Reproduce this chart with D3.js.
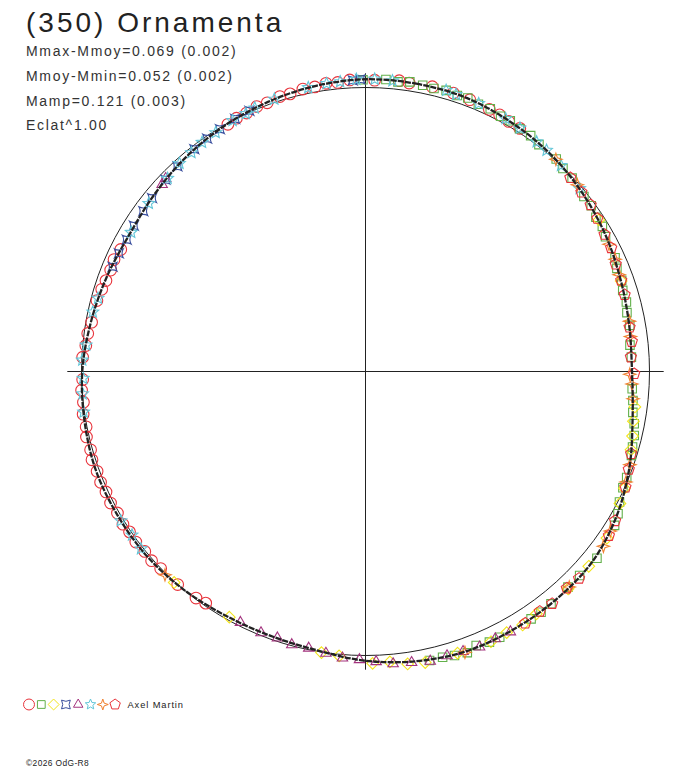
<!DOCTYPE html>
<html>
<head>
<meta charset="utf-8">
<script src="https://cdn.jsdelivr.net/npm/d3@7"></script>
<style>
  body { margin: 0; background: #fff; }
  svg { display: block; }
  text { font-family: "Liberation Sans", Arial, sans-serif; }
</style>
</head>
<body>
<div class="chart-container"></div>
<script>
// ---- data: phase angle (deg) and magnitude relative to the mean ----
const titleText = '(350) Ornamenta';
const statLines = ['Mmax-Mmoy=0.069 (0.002)', 'Mmoy-Mmin=0.052 (0.002)', 'Mamp=0.121 (0.003)', 'Eclat^1.00'];
const observer = 'Axel Martin';
const credit = '\u00a92026 OdG-R8';
const eclat = 1.00;

// fitted curve
const fitPhase = [0, 10, 20, 30, 40, 50, 60, 70, 80, 90, 100, 110, 120, 130, 140, 150, 160, 170,
    180, 190, 200, 210, 220, 230, 240, 250, 260, 270, 280, 290, 300, 310, 320, 330, 340, 350];
const fitMag = [-0.031, -0.031, -0.029, -0.018, -0.006, 0.011, 0.030, 0.050, 0.064, 0.069, 0.050, 0.012,
    -0.022, -0.045, -0.049, -0.050, -0.050, -0.038, -0.020, 0.004, 0.012, 0.010, 0.000, -0.008,
    -0.010, -0.012, -0.005, 0.003, 0.019, 0.033, 0.043, 0.033, 0.017, 0.003, -0.010, -0.022];

// session 1 (circles)
const s1Phase = [214.6, 216.8, 221.4, 226.1, 228.5, 230.8, 233.4, 235.8, 237.8, 240.3, 242.7, 245.1, 247.3, 249.6,
    252.1, 254.1, 256.8, 258.8, 261.4, 263.8, 266.2, 268.4, 272.9, 275.3, 277.8, 280.2, 284.8, 287.3, 289.3, 291.7,
    294.0, 296.5, 330.9, 333.0, 335.3, 337.7, 339.9, 342.7, 344.8, 347.5, 349.9, 352.2, 354.5, 356.9, 1.8, 6.6,
    8.6, 13.2, 17.5, 21.0, 25.3, 27.6, 29.8, 32.4];
const s1Mag = [0.010, 0.004, 0.000, -0.001, -0.006, -0.003, -0.008, -0.005, -0.010, -0.006, -0.011, -0.008, -0.012, -0.009,
    -0.013, -0.007, -0.010, -0.003, -0.006, 0.001, -0.002, 0.004, 0.003, 0.012, 0.014, 0.022, 0.024, 0.030, 0.035, 0.038,
    0.034, 0.041, 0.004, -0.001, -0.002, -0.009, -0.008, -0.015, -0.014, -0.020, -0.019, -0.026, -0.024, -0.030, -0.028, -0.033,
    -0.029, -0.032, -0.030, -0.027, -0.022, -0.021, -0.016, -0.015];

// session 2 (squares)
const s2Phase = [359.5, 4.0, 6.4, 8.7, 11.3, 13.6, 16.0, 18.4, 20.5, 22.9, 25.4, 27.9, 30.0, 32.4, 35.0, 37.4, 41.9, 44.2,
    46.9, 51.3, 53.7, 56.2, 58.5, 60.7, 65.5, 67.7, 70.4, 72.5, 75.1, 77.3, 80.1, 84.3, 86.9, 93.7, 96.2, 98.7, 101.0,
    103.4, 105.8, 107.5, 112.1, 114.3, 117.2, 119.4, 121.7, 128.9, 133.6, 136.8, 141.4, 143.9, 146.2, 153.2, 155.4,
    158.0, 160.1, 162.6, 164.9, 167.5];
const s2Mag = [-0.029, -0.033, -0.028, -0.034, -0.030, -0.027, -0.032, -0.026, -0.030, -0.023, -0.026, -0.018, -0.021, -0.013,
    -0.015, -0.006, -0.006, 0.003, 0.004, 0.016, 0.015, 0.026, 0.024, 0.034, 0.038, 0.048, 0.047, 0.056, 0.055, 0.063,
    0.062, 0.072, 0.070, 0.066, 0.059, 0.053, 0.040, 0.030, 0.025, 0.020, 0.008, 0.006, -0.006, -0.022, -0.033, -0.050,
    -0.044, -0.044, -0.050, -0.052, -0.051, -0.051, -0.051, -0.043, -0.056, -0.051, -0.045, -0.045];

// session 3 (diamonds)
const s3Phase = [57.0, 70.5, 97.5, 100.5, 103.6, 106.4, 114.3, 117.4, 124.6, 131.1, 137.0, 144.8, 148.2, 151.6, 155.1,
    161.9, 168.4, 171.8, 175.2, 178.6, 185.3, 188.9, 209.0, 222.2];
const s3Mag = [0.022, 0.050, 0.048, 0.045, 0.036, 0.028, 0.000, -0.010, -0.035, -0.046, -0.049, -0.047, -0.053, -0.048, -0.052,
    -0.046, -0.049, -0.043, -0.028, -0.030, -0.006, -0.002, 0.012, -0.003];

// session 4 (concave squares)
const s4Phase = [292.5, 295.6, 298.9, 302.2, 305.8, 309.1, 313.8, 317.5, 322.4, 325.8, 329.0, 332.7, 336.0, 357.5, 359.0];
const s4Mag = [0.040, 0.041, 0.044, 0.040, 0.039, 0.035, 0.027, 0.022, 0.013, 0.009, 0.005, -0.001, -0.005, -0.028, -0.031];

// session 5 (triangles)
const s5Phase = [150.9, 154.1, 157.5, 160.8, 164.0, 167.4, 171.0, 174.6, 177.9, 181.2, 184.6, 188.0, 191.6, 195.1,
    198.3, 201.8, 206.5, 312.6, 314.0];
const s5Mag = [-0.052, -0.049, -0.053, -0.047, -0.044, -0.048, -0.040, -0.036, -0.024, -0.016, -0.013, -0.002, 0.006, 0.004,
    0.013, 0.010, 0.014, 0.030, 0.024];

// session 6 (stars)
const s6Phase = [231.7, 235.0, 238.6, 261.8, 265.5, 268.6, 272.3, 275.4, 282.3, 285.3, 300.7, 307.8, 314.3, 318.2,
    321.5, 324.5, 327.9, 332.1, 335.1, 337.2, 341.5, 348.6, 352.3, 355.0, 358.2, 1.8, 5.3, 16.0, 18.1, 22.9, 29.0,
    32.4, 36.7, 39.3, 43.5, 49.5];
const s6Mag = [-0.008, -0.004, -0.010, -0.003, 0.001, 0.006, 0.002, 0.013, 0.019, 0.026, 0.045, 0.038, 0.029, 0.019,
    0.017, 0.010, 0.008, 0.000, -0.001, -0.007, -0.012, -0.021, -0.025, -0.026, -0.031, -0.032, -0.030, -0.032, -0.028,
    -0.026, -0.019, -0.016, -0.009, -0.007, 0.000, 0.009];

// session 7 (four point stars)
const s7Phase = [41.9, 48.6, 62.4, 65.8, 69.1, 79.2, 82.5, 90.6, 92.7, 95.8, 109.4, 113.0, 123.1, 126.3, 136.6, 160.5, 224.6];
const s7Mag = [-0.004, 0.006, 0.036, 0.040, 0.049, 0.060, 0.066, 0.078, 0.068, 0.059, 0.014, 0.004, -0.031, -0.042,
    -0.047, -0.052, -0.006];

// session 8 (pentagons)
const s8Phase = [46.6, 50.3, 53.5, 56.6, 60.2, 63.3, 66.8, 70.4, 73.5, 80.5, 83.6, 86.9, 90.5, 107.2, 110.4, 114.0,
    120.9, 124.0, 134.1, 137.1, 141.2, 144.0, 147.6];
const s8Mag = [0.008, 0.013, 0.015, 0.024, 0.033, 0.035, 0.046, 0.049, 0.054, 0.064, 0.063, 0.072, 0.060, 0.023, 0.012,
    -0.002, -0.026, -0.036, -0.050, -0.044, -0.052, -0.047, -0.053];

// ---- symbol shapes (size = radius squared) ----
const polygon = (n, rot) => ({
    draw(ctx, size) {
        const r = Math.sqrt(size);
        for (let i = 0; i < n; i++) {
            const a = rot + i * 2 * Math.PI / n;
            i ? ctx.lineTo(r * Math.sin(a), -r * Math.cos(a)) : ctx.moveTo(r * Math.sin(a), -r * Math.cos(a));
        }
        ctx.closePath();
    }
});
const starShape = (n, inner, rot) => ({
    draw(ctx, size) {
        const r = Math.sqrt(size);
        for (let i = 0; i < n * 2; i++) {
            const a = rot + i * Math.PI / n;
            const rr = i % 2 ? r * inner : r;
            i ? ctx.lineTo(rr * Math.sin(a), -rr * Math.cos(a)) : ctx.moveTo(rr * Math.sin(a), -rr * Math.cos(a));
        }
        ctx.closePath();
    }
});
const circleShape = { draw(ctx, size) { const r = Math.sqrt(size); ctx.moveTo(r, 0); ctx.arc(0, 0, r, 0, 2 * Math.PI); } };
const concaveSquare = {
    draw(ctx, size) {
        const r = Math.sqrt(size) * 0.8, k = r * 0.45;
        ctx.moveTo(-r, -r);
        ctx.quadraticCurveTo(0, -k, r, -r);
        ctx.quadraticCurveTo(k, 0, r, r);
        ctx.quadraticCurveTo(0, k, -r, r);
        ctx.quadraticCurveTo(-k, 0, -r, -r);
        ctx.closePath();
    }
};

const sessions = [
    { phase: s1Phase, mag: s1Mag, shape: circleShape, size: 34, color: '#e8343c' },
    { phase: s2Phase, mag: s2Mag, shape: polygon(4, Math.PI / 4), size: 36, color: '#62b04a' },
    { phase: s3Phase, mag: s3Mag, shape: polygon(4, 0), size: 34, color: '#f2e41a' },
    { phase: s4Phase, mag: s4Mag, shape: concaveSquare, size: 30, color: '#3a4f9e' },
    { phase: s5Phase, mag: s5Mag, shape: polygon(3, 0), size: 36, color: '#a3337e' },
    { phase: s6Phase, mag: s6Mag, shape: starShape(5, 0.45, 0), size: 38, color: '#62c6d8' },
    { phase: s7Phase, mag: s7Mag, shape: starShape(4, 0.35, 0), size: 38, color: '#f0802e' },
    { phase: s8Phase, mag: s8Mag, shape: polygon(5, 0), size: 34, color: '#e8343c' }
];

// ---- layout ----
const width = 688, height = 768;
const cx = 365.5, cy = 371.5;
const R0 = 284;

const angle = d3.scaleLinear().domain([0, 360]).range([0, 2 * Math.PI]);
const radius = d3.scaleLinear().domain([0, 1]).range([0, R0]);
const flux = m => Math.pow(Math.pow(10, -0.4 * m), eclat);

const svg = d3.select('.chart-container')
    .append('svg')
    .attr('width', width)
    .attr('height', height);

// header
svg.append('text')
    .attr('x', 26)
    .attr('y', 32)
    .attr('font-size', 28)
    .attr('letter-spacing', 3)
    .attr('fill', '#222')
    .text(titleText);

svg.append('g')
    .selectAll('text')
    .data(statLines)
    .join('text')
    .attr('x', 26)
    .attr('y', (d, i) => 56 + i * 24.8)
    .attr('font-size', 14)
    .attr('letter-spacing', 1.7)
    .attr('fill', '#333')
    .text(d => d);

const plot = svg.append('g').attr('transform', `translate(${cx}, ${cy})`);

// axes
const axisLen = radius(1.05);
plot.append('line').attr('x1', -axisLen).attr('x2', axisLen).attr('y1', 0).attr('y2', 0)
    .attr('stroke', '#222').attr('stroke-width', 1);
plot.append('line').attr('y1', -axisLen).attr('y2', axisLen).attr('x1', 0).attr('x2', 0)
    .attr('stroke', '#222').attr('stroke-width', 1);

// mean brightness circle
plot.append('circle')
    .attr('r', radius(1))
    .attr('fill', 'none')
    .attr('stroke', '#222')
    .attr('stroke-width', 1);

// observations
sessions.forEach(s => {
    const pts = s.phase.map((p, i) => d3.pointRadial(angle(p), radius(flux(s.mag[i]))));
    plot.append('g')
        .selectAll('path')
        .data(pts)
        .join('path')
        .attr('transform', d => `translate(${d[0]}, ${d[1]})`)
        .attr('d', d3.symbol().type(s.shape).size(s.size))
        .attr('fill', 'none')
        .attr('stroke', s.color)
        .attr('stroke-width', 1.1);
});

// fitted curve
const fitData = fitPhase.map((p, i) => ({ phase: p, mag: fitMag[i] }));
plot.append('path')
    .datum(fitData)
    .attr('d', d3.lineRadial()
        .angle(d => angle(d.phase))
        .radius(d => radius(flux(d.mag)))
        .curve(d3.curveCatmullRomClosed))
    .attr('fill', 'none')
    .attr('stroke', '#222')
    .attr('stroke-width', 2.3)
    .attr('stroke-dasharray', '6 1.2');

// legend
const legend = svg.append('g').attr('transform', 'translate(29, 704.5)');
legend.selectAll('path')
    .data(sessions)
    .join('path')
    .attr('transform', (d, i) => `translate(${i * 12.3}, 0)`)
    .attr('d', d => d3.symbol().type(d.shape).size(30)())
    .attr('fill', 'none')
    .attr('stroke', d => d.color)
    .attr('stroke-width', 1);
legend.append('text')
    .attr('x', 98.5)
    .attr('y', 3.8)
    .attr('font-size', 9.3)
    .attr('letter-spacing', 0.9)
    .attr('fill', '#222')
    .text(observer);

svg.append('text')
    .attr('x', 26)
    .attr('y', 766)
    .attr('font-size', 8.4)
    .attr('letter-spacing', 0.4)
    .attr('fill', '#222')
    .text(credit);
</script>
</body>
</html>
